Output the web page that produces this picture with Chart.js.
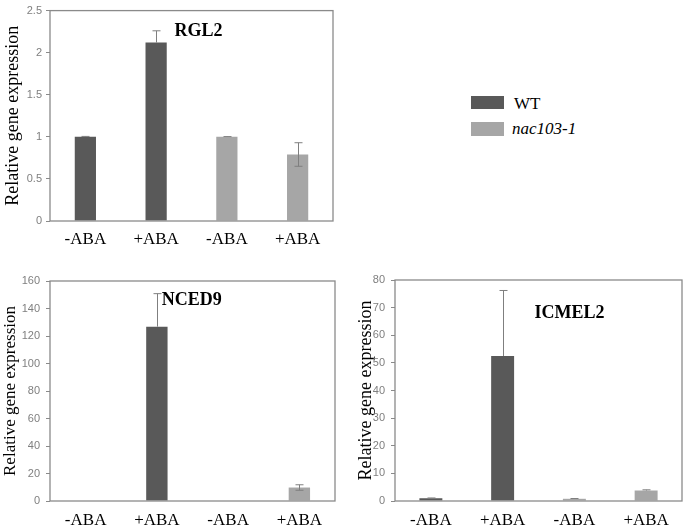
<!DOCTYPE html>
<html>
<head>
<meta charset="utf-8">
<script src="https://cdn.jsdelivr.net/npm/chart.js@4.4.0/dist/chart.umd.min.js"></script>
<style>
  body { margin: 0; background: #fff; }
  #page { position: relative; width: 685px; height: 528px; overflow: hidden; background: #fff; }
  #page canvas { position: absolute; }
  .swatch { position: absolute; }
  .legend-text { position: absolute; font-family: "Liberation Serif", "Times New Roman", serif; font-size: 17px; line-height: 20px; color: #000; }
</style>
</head>
<body>
<div id="page">
  <canvas id="chartRGL2" width="340" height="255" style="left:0;top:0"></canvas>
  <canvas id="chartNCED9" width="340" height="268" style="left:0;top:260px"></canvas>
  <canvas id="chartICMEL2" width="345" height="268" style="left:340px;top:260px"></canvas>

  <div class="swatch" style="left:471px;top:96px;width:33px;height:13px;background:#595959"></div>
  <div class="legend-text" style="left:514px;top:94px">WT</div>
  <div class="swatch" style="left:471px;top:122px;width:33px;height:14px;background:#a6a6a6"></div>
  <div class="legend-text" style="left:512px;top:119px;font-style:italic">nac103-1</div>
</div>
<script>
// categories and genotype of each bar
const categories = ['-ABA', '+ABA', '-ABA', '+ABA'];
const genotypes = ['WT', 'WT', 'nac103-1', 'nac103-1'];

// RGL2 (error above / below the bar top)
const rgl2Values = [1.0, 2.12, 1.0, 0.79];
const rgl2ErrUp = [0.005, 0.14, 0.003, 0.14];
const rgl2ErrDown = [0, 0, 0, 0.14];

// NCED9
const nced9Values = [0, 126.8, 0, 9.8];
const nced9ErrUp = [0, 24, 0, 2];
const nced9ErrDown = [0, 0, 0, 2];

// ICMEL2
const icmel2Values = [1.0, 52.5, 0.8, 3.8];
const icmel2ErrUp = [0.1, 23.7, 0.1, 0.25];
const icmel2ErrDown = [0, 0, 0, 0];

const genotypeColors = { 'WT': '#595959', 'nac103-1': '#a6a6a6' };
const serif = '"Liberation Serif", "Times New Roman", serif';
const sans = '"Liberation Sans", Arial, sans-serif';

// Error bars, drawn from the y scale
const errorBarPlugin = {
    id: 'errorBars',
    afterDatasetsDraw(chart) {
        const { up, down } = chart.options.plugins.errorBars;
        const values = chart.data.datasets[0].data;
        const yScale = chart.scales.y;
        const ctx = chart.ctx;
        const meta = chart.getDatasetMeta(0);
        ctx.save();
        ctx.strokeStyle = '#7f7f7f';
        ctx.lineWidth = 1;
        meta.data.forEach((bar, i) => {
            if (!up[i] && !down[i]) return;
            const yTop = yScale.getPixelForValue(values[i] + up[i]);
            const yBot = yScale.getPixelForValue(values[i] - down[i]);
            const x = Math.round(bar.x) + 0.5;
            ctx.beginPath();
            ctx.moveTo(x, yTop);
            ctx.lineTo(x, yBot);
            ctx.moveTo(x - 4, yTop);
            ctx.lineTo(x + 4, yTop);
            if (down[i]) {
                ctx.moveTo(x - 4, yBot);
                ctx.lineTo(x + 4, yBot);
            }
            ctx.stroke();
        });
        ctx.restore();
    }
};

// Plot frame and gene name inside the plot area
const framePlugin = {
    id: 'frame',
    afterDraw(chart) {
        const opts = chart.options.plugins.frame;
        const a = chart.chartArea;
        const ctx = chart.ctx;
        ctx.save();
        ctx.strokeStyle = '#8a8a8a';
        ctx.lineWidth = 1.3;
        ctx.strokeRect(a.left, a.top, a.right - a.left, a.bottom - a.top);
        ctx.fillStyle = '#000';
        ctx.font = 'bold 18px ' + serif;
        ctx.textAlign = 'center';
        ctx.textBaseline = 'middle';
        ctx.fillText(opts.gene, a.left + opts.fx * (a.right - a.left), a.top + opts.fy * (a.bottom - a.top));
        ctx.restore();
    }
};

function makePanel(canvasId, gene, values, errUp, errDown, cfg) {
    const ctx = document.getElementById(canvasId).getContext('2d');
    return new Chart(ctx, {
        type: 'bar',
        data: {
            labels: categories,
            datasets: [{
                label: gene,
                data: values,
                backgroundColor: genotypes.map(g => genotypeColors[g]),
                borderWidth: 0,
                barPercentage: cfg.barPct,
                categoryPercentage: 1
            }]
        },
        options: {
            responsive: false,
            animation: false,
            layout: { padding: cfg.padding },
            plugins: {
                legend: { display: false },
                tooltip: { enabled: false },
                errorBars: { up: errUp, down: errDown },
                frame: { gene: gene, fx: cfg.fx, fy: cfg.fy }
            },
            scales: {
                x: {
                    grid: { display: false, drawTicks: false },
                    border: { display: false },
                    ticks: {
                        color: '#000',
                        padding: cfg.xPad,
                        font: { family: serif, size: 17 },
                        maxRotation: 0
                    },
                    afterFit: s => { s.height = cfg.xHeight; }
                },
                y: {
                    min: 0,
                    max: cfg.max,
                    border: { display: false },
                    grid: {
                        drawOnChartArea: false,
                        drawTicks: true,
                        tickLength: 4,
                        color: '#8a8a8a'
                    },
                    ticks: {
                        stepSize: cfg.step,
                        color: '#7f7f7f',
                        padding: cfg.yPad,
                        font: { family: sans, size: 11 },
                        callback: v => String(v)
                    },
                    title: {
                        display: true,
                        text: 'Relative gene expression',
                        color: '#000',
                        padding: { top: cfg.titlePad, bottom: 0 },
                        font: { family: serif, size: cfg.titleSize }
                    },
                    afterFit: s => { s.width = cfg.yWidth; }
                }
            }
        },
        plugins: [errorBarPlugin, framePlugin]
    });
}

makePanel('chartRGL2', 'RGL2', rgl2Values, rgl2ErrUp, rgl2ErrDown, {
    padding: { top: 7, right: 7, left: 0, bottom: 0 },
    yWidth: 50, xHeight: 34, xPad: 8, yPad: 4,
    titleSize: 18, titlePad: 2,
    max: 2.5, step: 0.5, barPct: 0.3,
    fx: 0.525, fy: 0.10
});

makePanel('chartNCED9', 'NCED9', nced9Values, nced9ErrUp, nced9ErrDown, {
    padding: { top: 21, right: 5, left: 0, bottom: 0 },
    yWidth: 50, xHeight: 27, xPad: 9, yPad: 6,
    titleSize: 17, titlePad: 0,
    max: 160, step: 20, barPct: 0.3,
    fx: 0.497, fy: 0.086
});

makePanel('chartICMEL2', 'ICMEL2', icmel2Values, icmel2ErrUp, icmel2ErrDown, {
    padding: { top: 20, right: 3, left: 13, bottom: 0 },
    yWidth: 42, xHeight: 27, xPad: 9, yPad: 6,
    titleSize: 18, titlePad: 2,
    max: 80, step: 10, barPct: 0.32,
    fx: 0.608, fy: 0.15
});
</script>
</body>
</html>
